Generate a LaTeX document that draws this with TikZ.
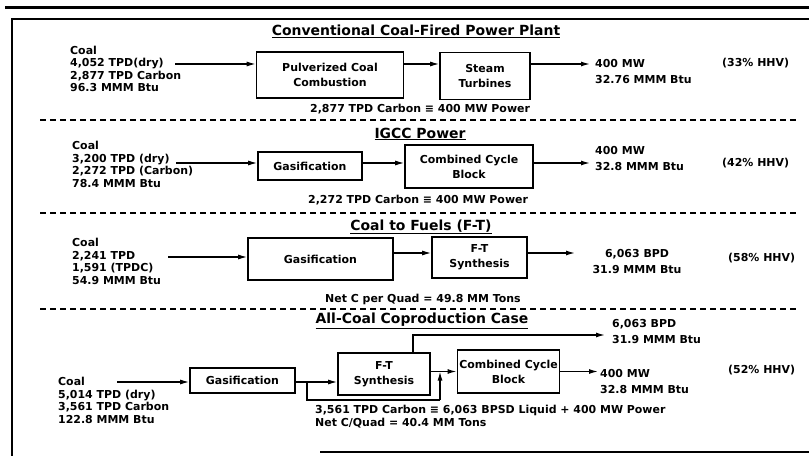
\documentclass[tikz,border=0pt]{standalone}
\usepackage{fontspec}
\setmainfont{DejaVu Sans}
\usetikzlibrary{arrows.meta,calc}

\begin{document}
\begin{tikzpicture}[x=1bp, y=-1bp, font=\fontsize{11}{12.6}\selectfont\bfseries,
  >={Latex[length=9bp,width=5bp]},
  box/.style={draw, line width=1.6bp, align=center, inner sep=2pt,
              font=\fontsize{11}{15}\selectfont\bfseries},
  feed/.style={align=left, anchor=west, inner sep=0pt},
  prod/.style={align=left, anchor=west, inner sep=0pt,
               font=\fontsize{11}{16.5}\selectfont\bfseries},
  ttl/.style={inner sep=0pt, font=\fontsize{14}{15}\selectfont\bfseries},
  flow/.style={->, line width=1.3bp},
  sep/.style={line width=1.5bp, dash pattern=on 6bp off 4bp}]
\useasboundingbox (0,0) rectangle (809,456);

% frame
\draw[line width=3bp] (5,8) -- (809,8);
\draw[line width=2bp] (809,19) -- (12,19) -- (12,456);
\draw[line width=2bp] (320,452) -- (809,452);

% conventional plant
\node[ttl]  (t1)   at (416,31)  {\underline{Conventional Coal-Fired Power Plant}};
\node[feed] (coal1) at (70,69)  {Coal\\4,052 TPD(dry)\\2,877 TPD Carbon\\96.3 MMM Btu};
\node[box, minimum width=147bp, minimum height=46bp] (pcc) at (330,75) {Pulverized Coal\\Combustion};
\node[box, minimum width=90bp, minimum height=47bp]  (stm) at (485,76) {Steam\\Turbines};
\node[prod] (mw1)  at (595,71.5) {400 MW\\32.76 MMM Btu};
\node[feed] (eff1) at (722,63)  {(33\% HHV)};
\node[feed] (cb1)  at (310,109) {2,877 TPD Carbon ≡ 400 MW Power};
\coordinate (c1) at (175,64);
\draw[flow] (c1) -- (c1 -| pcc.west);
\draw[flow] (c1 -| pcc.east) -- (c1 -| stm.west);
\draw[flow, shorten >=5bp] (c1 -| stm.east) -- (c1 -| mw1.west);
\draw[sep] (40,120) -- (800,120);

% IGCC
\node[ttl]  (t2)   at (420,134) {\underline{IGCC Power}};
\node[feed] (coal2) at (72,164.5) {Coal\\3,200 TPD (dry)\\2,272 TPD (Carbon)\\78.4 MMM Btu};
\node[box, minimum width=104bp, minimum height=28bp] (gas2) at (310,166) {Gasification};
\node[box, minimum width=128bp, minimum height=43bp] (cc2)  at (469,166.5) {Combined Cycle\\Block};
\node[prod] (mw2)  at (595,158.5) {400 MW\\32.8 MMM Btu};
\node[feed] (eff2) at (722,163) {(42\% HHV)};
\node[feed] (cb2)  at (308,200) {2,272 TPD Carbon ≡ 400 MW Power};
\coordinate (c2) at (176,163);
\draw[flow] (c2) -- (c2 -| gas2.west);
\draw[flow] (c2 -| gas2.east) -- (c2 -| cc2.west);
\draw[flow, shorten >=5bp] (c2 -| cc2.east) -- (c2 -| mw2.west);
\draw[sep] (40,213) -- (800,213);

% coal to fuels
\node[ttl]  (t3)   at (421,227) {\underline{Coal to Fuels (F-T)}};
\node[feed] (coal3) at (72,261.5) {Coal\\2,241 TPD\\1,591 (TPDC)\\54.9 MMM Btu};
\node[box, minimum width=145bp, minimum height=42bp] (gas3) at (320.5,259) {Gasification};
\node[box, minimum width=95bp, minimum height=41bp]  (ft3)  at (479.5,257.5) {F-T\\Synthesis};
\node[prod, anchor=center, align=center] (liq3) at (637,261.5) {6,063 BPD\\31.9 MMM Btu};
\node[feed] (eff3) at (728,258) {(58\% HHV)};
\node[feed] (nc3)  at (325,299) {Net C per Quad = 49.8 MM Tons};
\coordinate (c3) at (168,257);
\coordinate (e3) at (575,253);
\draw[flow] (c3) -- (c3 -| gas3.west);
\draw[flow] (e3 -| gas3.east) -- (e3 -| ft3.west);
\draw[flow] (e3 -| ft3.east) -- (e3);
\draw[sep] (40,309) -- (800,309);

% coproduction
\node[ttl]  (t4)   at (422,321) {\underline{All-Coal Coproduction Case}};
\node[feed] (coal4) at (58,400.5) {Coal\\5,014 TPD (dry)\\3,561 TPD Carbon\\122.8 MMM Btu};
\node[box, minimum width=105bp, minimum height=25bp] (gas4) at (242.5,380.5) {Gasification};
\node[box, minimum width=92bp, minimum height=42bp]  (ft4)  at (384,374) {F-T\\Synthesis};
\node[box, minimum width=87bp, minimum height=43bp]  (cc4)  at (508.5,371.5) {Combined Cycle\\Block};
\node[prod] (liq4) at (612,331.5) {6,063 BPD\\31.9 MMM Btu};
\node[prod] (mw4)  at (600,381.5) {400 MW\\32.8 MMM Btu};
\node[feed] (eff4) at (728,370) {(52\% HHV)};
\node[feed] (cb4)  at (315,416.5) {3,561 TPD Carbon ≡ 6,063 BPSD Liquid + 400 MW Power\\Net C/Quad = 40.4 MM Tons};
\coordinate (c4)  at (117,382);
\coordinate (j4)  at (307,382);
\coordinate (byp) at (440,400);
\coordinate (up4) at (413,335);
\draw[flow] (c4) -- (c4 -| gas4.west);
\draw[flow] (c4 -| gas4.east) -- (c4 -| ft4.west);
\draw[line width=1.3bp] (j4) |- (byp);
\draw[flow] (byp) -- (byp |- cc4.west);
\draw[flow] (cc4.west -| ft4.east) -- (cc4.west);
\draw[flow, shorten >=7bp] (up4 |- ft4.north) -- (up4) -- (up4 -| liq4.west);
\draw[flow, shorten >=2bp] (cc4.east) -- (cc4.east -| mw4.west);
\end{tikzpicture}
\end{document}
